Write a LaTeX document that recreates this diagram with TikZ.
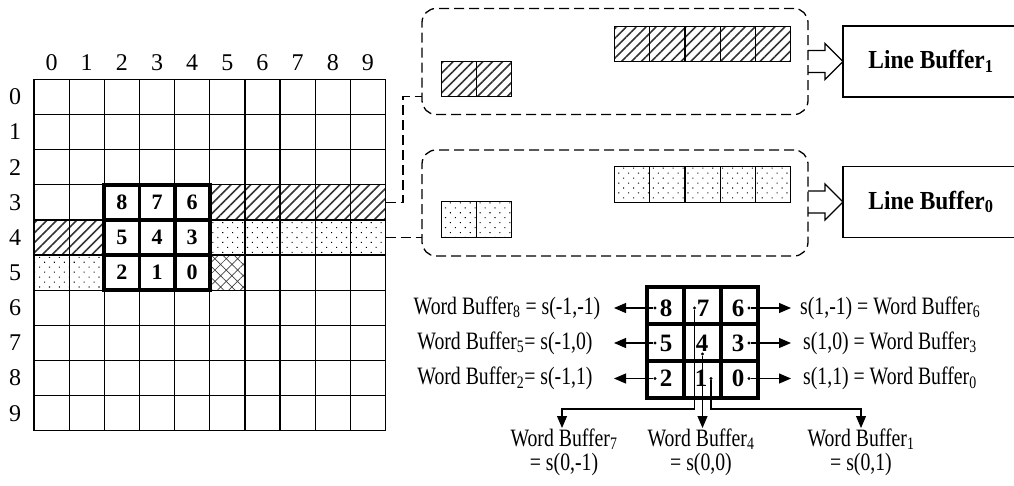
\documentclass[tikz,border=0pt]{standalone}
\usepackage{fontspec}
\setmainfont{Liberation Serif}
\newfontfamily\lblfont[FakeStretch=0.79]{Liberation Serif}
\newfontfamily\lbfont[FakeStretch=0.9]{Liberation Serif}
\usetikzlibrary{patterns.meta,arrows.meta,calc}
\begin{document}
\begin{tikzpicture}[x=1pt,y=-1pt,
  gline/.style={line width=1.2pt},
  tline/.style={line width=3.8pt},
  bline/.style={line width=4.5pt},
  hatchfill/.style={pattern={Lines[angle=45,distance=7pt,line width=1.6pt]},pattern color=black!80},
  dotfill/.style={pattern={Dots[angle=45,distance=7pt,radius=0.75pt]},pattern color=black},
  crossfill/.style={pattern={Hatch[angle=45,distance=8pt,line width=0.7pt]},pattern color=black!75},
  dbox/.style={draw,line width=1.3pt,dash pattern=on 10pt off 5pt,rounded corners=14pt,minimum width=386pt,minimum height=106pt,inner sep=0pt,outer sep=0pt},
  lbbox/.style={draw,line width=1.4pt,minimum width=176pt,minimum height=71pt,inner sep=0pt,outer sep=0pt,font=\lbfont\fontsize{26}{26}\selectfont\bfseries},
  bufcell/.style={draw,line width=1.3pt,minimum width=35.2pt,minimum height=35.6pt,inner sep=0pt,outer sep=0pt},
  glabel/.style={font=\fontsize{24}{24}\selectfont,inner sep=0pt},
  gnum/.style={font=\fontsize{22}{22}\selectfont\bfseries,inner sep=0pt},
  wnum/.style={font=\fontsize{25}{25}\selectfont\bfseries,inner sep=0pt},
  wlabel/.style={font=\lblfont\fontsize{25}{24}\selectfont,inner sep=0pt},
  wdot/.style={circle,fill,inner sep=0pt,minimum size=3.2pt},
  warr/.style={line width=1.1pt,-{Triangle[length=12pt,width=10pt]}},
  dconn/.style={line width=1.3pt,dash pattern=on 10pt off 5pt},
  hollow/.style={line width=1.3pt,line join=miter}
]
\useasboundingbox (0,0) rectangle (1014,485);

% ---------- image grid ----------
\begin{scope}[shift={(34,79.3)},x=35.15pt,y=-35.15pt]
  \fill[hatchfill] (5,3) rectangle (10,4);
  \fill[hatchfill] (0,4) rectangle (2,5);
  \fill[dotfill] (5,4) rectangle (10,5);
  \fill[dotfill] (0,5) rectangle (2,6);
  \fill[crossfill] (5,5) rectangle (6,6);
  \foreach \i in {0,...,10}{
    \draw[gline] (\i,0) -- (\i,10);
    \draw[gline] (0,\i) -- (10,\i);
  }
  \foreach \i in {0,...,9}{
    \node[glabel] (c\i) at (\i+0.5,-0.47) {\i};
    \node[glabel] (r\i) at (-0.54,\i+0.5) {\i};
  }
  \draw[tline] (2,3) rectangle (5,6);
  \draw[tline] (3,3) -- (3,6) (4,3) -- (4,6) (2,4) -- (5,4) (2,5) -- (5,5);
  \node[gnum] (g8) at (2.5,3.5) {8};
  \node[gnum] (g7) at (3.5,3.5) {7};
  \node[gnum] (g6) at (4.5,3.5) {6};
  \node[gnum] (g5) at (2.5,4.5) {5};
  \node[gnum] (g4) at (3.5,4.5) {4};
  \node[gnum] (g3) at (4.5,4.5) {3};
  \node[gnum] (g2) at (2.5,5.5) {2};
  \node[gnum] (g1) at (3.5,5.5) {1};
  \node[gnum] (g0) at (4.5,5.5) {0};
  \coordinate (e3) at (10,3.5);
  \coordinate (e4) at (10,4.5);
\end{scope}

% ---------- line buffer groups ----------
\node[dbox] (db1) at (615,61.5) {};
\node[dbox] (db0) at (615,203) {};
\foreach \k in {0,...,4}{
  \node[bufcell,hatchfill] (h\k) at (632.2+35.2*\k,44) {};
  \node[bufcell,dotfill] (d\k) at (632.2+35.2*\k,184.5) {};
}
\node[bufcell,hatchfill] (ha) at (458.8,79) {};
\node[bufcell,hatchfill] (hb) at (494,79) {};
\node[bufcell,dotfill] (da) at (458.8,219.5) {};
\node[bufcell,dotfill] (dbb) at (494,219.5) {};

\node[lbbox] (lb1) at (931,61.5) {Line Buffer\textsubscript{1}};
\node[lbbox] (lb0) at (931,202) {Line Buffer\textsubscript{0}};

\draw[hollow] ($(db1.east|-lb1.west)+(0,-11)$) -- ++(17,0) -- ++(0,-7) -- (lb1.west)
  -- ($(lb1.west)+(-18,18)$) -- ++(0,-7) -- ($(db1.east|-lb1.west)+(0,11)$);
\draw[hollow] ($(db0.east|-lb0.west)+(0,-11)$) -- ++(17,0) -- ++(0,-7) -- (lb0.west)
  -- ($(lb0.west)+(-18,18)$) -- ++(0,-7) -- ($(db0.east|-lb0.west)+(0,11)$);

\draw[dconn] (e3) -- ++(17.5,0) |- ($(db1.south west)+(0,-18)$);
\draw[dconn] (e4) -- (e4 -| db0.west);

% ---------- word buffer window ----------
\begin{scope}[shift={(647,287)},x=37pt,y=-37pt]
  \draw[bline] (0,0) rectangle (3,3);
  \draw[bline] (1,0) -- (1,3) (2,0) -- (2,3) (0,1) -- (3,1) (0,2) -- (3,2);
\end{scope}
\node[wnum] (w8) at (666,308) {8};
\node[wnum] (w7) at (703,308) {7};
\node[wnum] (w6) at (738,308) {6};
\node[wnum] (w5) at (666,343) {5};
\node[wnum] (w4) at (702,343) {4};
\node[wnum] (w3) at (738,343) {3};
\node[wnum] (w2) at (666,378.5) {2};
\node[wnum] (w1) at (701,378.5) {1};
\node[wnum] (w0) at (738,378.5) {0};

\node[wdot] (p8) at (655,308) {};
\node[wdot] (p5) at (655,343) {};
\node[wdot] (p2) at (655,378.5) {};
\node[wdot] (p6) at (749,308) {};
\node[wdot] (p3) at (749,343) {};
\node[wdot] (p0) at (749,378.5) {};
\node[wdot] (p7) at (694.5,308) {};
\node[wdot] (p4) at (702.5,354) {};
\node[wdot] (p1) at (711,378.5) {};

\node[wlabel] (l8) at (507,308) {Word Buffer\textsubscript{8} = s(-1,-1)};
\node[wlabel] (l5) at (505,343) {Word Buffer\textsubscript{5}= s(-1,0)};
\node[wlabel] (l2) at (505,378.5) {Word Buffer\textsubscript{2}= s(-1,1)};
\node[wlabel,anchor=west] (l6) at (800,308) {s(1,-1) = Word Buffer\textsubscript{6}};
\node[wlabel,anchor=west] (l3) at (803,343) {s(1,0) = Word Buffer\textsubscript{3}};
\node[wlabel,anchor=west] (l0) at (803,378.5) {s(1,1) = Word Buffer\textsubscript{0}};
\node[wlabel,align=center] (l7) at (564,452) {Word Buffer\textsubscript{7}\\= s(0,-1)};
\node[wlabel,align=center] (l4) at (701,452) {Word Buffer\textsubscript{4}\\= s(0,0)};
\node[wlabel,align=center] (l1) at (861,452) {Word Buffer\textsubscript{1}\\= s(0,1)};

\coordinate (t8) at (614,308);
\coordinate (t5) at (614,343);
\coordinate (t2) at (614,378.5);
\coordinate (t6) at (791,308);
\coordinate (t3) at (791,343);
\coordinate (t0) at (791,378.5);
\coordinate (b7) at (562,428);
\coordinate (b4) at (702.5,428);
\coordinate (b1) at (861,428);

\draw[warr] (p8) -- (t8);
\draw[warr] (p5) -- (t5);
\draw[warr] (p2) -- (t2);
\draw[warr] (p6) -- (t6);
\draw[warr] (p3) -- (t3);
\draw[warr] (p0) -- (t0);
\draw[warr] (p7) |- ($(b7)+(0,-19)$) -- (b7);
\draw[warr] (p4) -- (b4);
\draw[warr] (p1) |- ($(b1)+(0,-19)$) -- (b1);
\end{tikzpicture}
\end{document}
